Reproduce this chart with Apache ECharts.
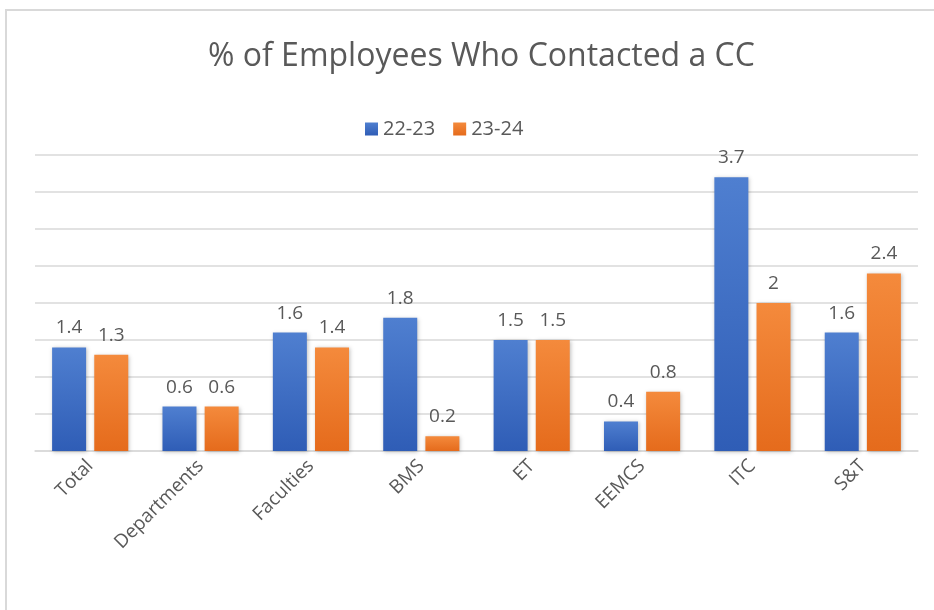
<!DOCTYPE html>
<html><head><meta charset="utf-8">
<script src="https://cdn.jsdelivr.net/npm/echarts@6/dist/echarts.min.js"></script>
<style>html,body{margin:0;padding:0;background:#fff}#c{width:934px;height:610px}</style>
</head><body><div id="c"></div>
<script>
const categories = ['Total','Departments','Faculties','BMS','ET','EEMCS','ITC','S&T'];
const series2223 = [1.4,0.6,1.6,1.8,1.5,0.4,3.7,1.6];
const series2324 = [1.3,0.6,1.4,0.2,1.5,0.8,2,2.4];
const seriesNames = ['22-23','23-24'];

const font = '"Open Sans", "Noto Sans", sans-serif';
const chart = echarts.init(document.getElementById('c'));
function grad(top, bottom){
  return new echarts.graphic.LinearGradient(0,0,0,1,[{offset:0,color:top},{offset:1,color:bottom}]);
}
chart.setOption({
  animation:false,
  backgroundColor:'#fff',
  graphic:[{type:'rect',shape:{x:6,y:10,width:1000,height:700},style:{fill:'none',stroke:'#d9d9d9',lineWidth:2},z:-10}],
  title:{text:'% of Employees Who Contacted a CC',left:203,top:36,
    textStyle:{fontFamily:font,fontSize:32,fontWeight:'normal',color:'#595959'}},
  legend:{top:114,left:360,itemWidth:13,itemHeight:13,itemGap:18,icon:'rect',
    textStyle:{fontFamily:font,fontSize:20,color:'#595959'}},
  grid:{left:35,right:16,top:155,bottom:159},
  xAxis:{type:'category',data:categories,
    axisLine:{lineStyle:{color:'#d9d9d9',width:1.5}},axisTick:{show:false},
    axisLabel:{rotate:45,fontFamily:font,fontSize:19,color:'#595959',margin:12}},
  yAxis:{type:'value',min:0,max:4,interval:0.5,axisLabel:{show:false},axisLine:{show:false},axisTick:{show:false},
    splitLine:{lineStyle:{color:'#d9d9d9',width:1.5}}},
  series:[
    {name:seriesNames[0],type:'bar',data:series2223,barWidth:34,barGap:'24%',
      itemStyle:{color:grad('#4f7fd0','#2f5db6'),shadowColor:'rgba(0,0,0,0.25)',shadowBlur:4,shadowOffsetX:1,shadowOffsetY:1},
      label:{show:true,position:'top',distance:10,fontFamily:font,fontSize:19,color:'#595959'}},
    {name:seriesNames[1],type:'bar',data:series2324,barWidth:34,
      itemStyle:{color:grad('#f48a3c','#e56b1c'),shadowColor:'rgba(0,0,0,0.25)',shadowBlur:4,shadowOffsetX:1,shadowOffsetY:1},
      label:{show:true,position:'top',distance:10,fontFamily:font,fontSize:19,color:'#595959'}}
  ]
});
</script></body></html>
